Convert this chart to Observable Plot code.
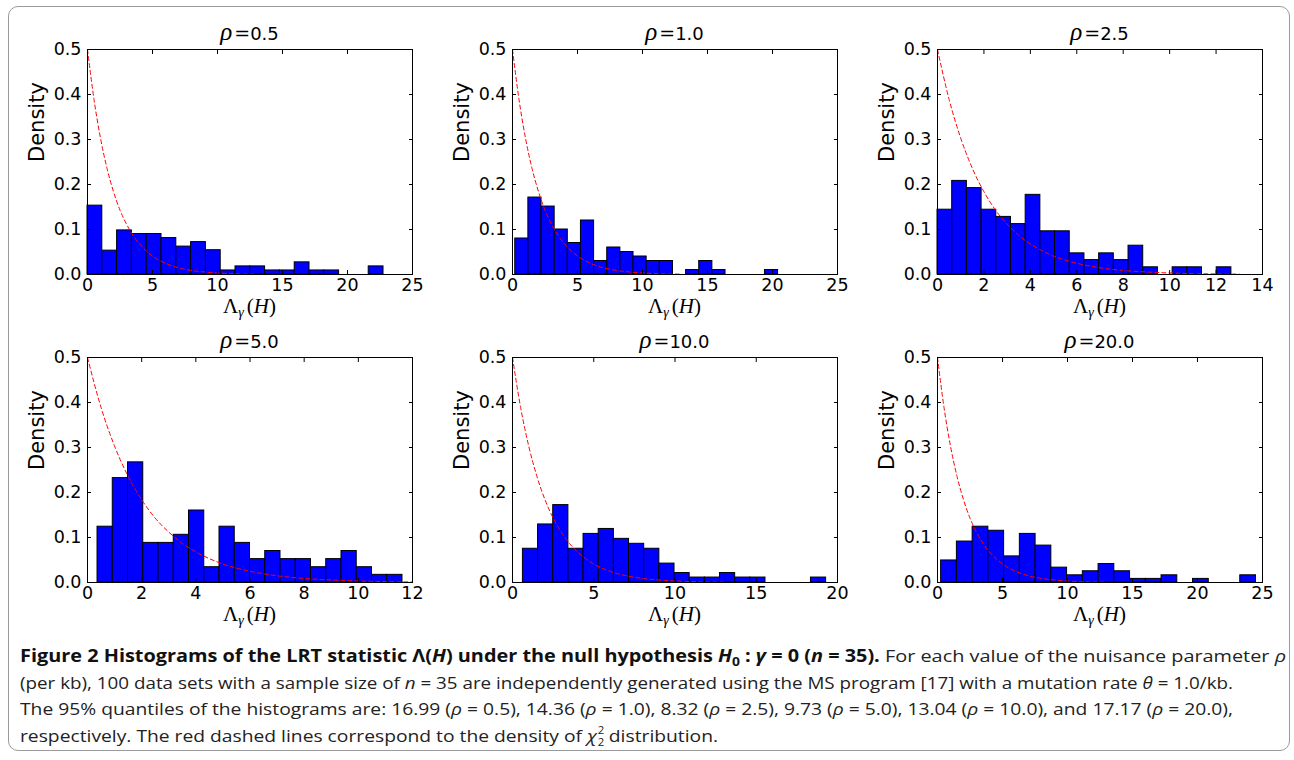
<!DOCTYPE html>
<html><head><meta charset="utf-8">
<script src="https://cdn.jsdelivr.net/npm/d3@7"></script>
<script src="https://cdn.jsdelivr.net/npm/@observablehq/plot@0.6"></script>
<style>
html,body{margin:0;padding:0;background:#fff;}
#page{position:relative;width:1294px;height:760px;overflow:hidden;background:#fff;}
#border{position:absolute;left:8px;top:6px;width:1282px;height:745px;border:1.5px solid #9a9a9a;border-radius:10px;box-sizing:border-box;}
.panel{position:absolute;}
.cap{position:absolute;left:20px;white-space:nowrap;font-family:"Open Sans";font-size:17px;line-height:20px;color:#222;transform-origin:0 50%;}
.cap b{color:#111;}
.cap sub{font-size:70%;line-height:0;}
.ss{display:inline-block;vertical-align:-4px;font-size:10px;text-align:left;margin-left:1px;margin-right:4px;}
.ss span{display:block;line-height:12px;}
</style></head><body>
<div id="page"><div id="border"></div></div>
<script>
// ---- data ----
const rhoLabels = ["0.5", "1.0", "2.5", "5.0", "10.0", "20.0"];
const xMax = [25, 25, 14, 12, 20, 25];
const xTicks25 = [0, 5, 10, 15, 20, 25];
const xTicks14 = [0, 2, 4, 6, 8, 10, 12, 14];
const xTicks12 = [0, 2, 4, 6, 8, 10, 12];
const xTicks20 = [0, 5, 10, 15, 20];
const yTicks = [0, 0.1, 0.2, 0.3, 0.4, 0.5];

// histogram ranges [min, max] (20 equal bins each)
const range_rho05 = [0, 22.77];
const range_rho10 = [0.21, 20.43];
const range_rho25 = [0, 12.66];
const range_rho50 = [0.37, 11.63];
const range_rho100 = [0.64, 19.3];
const range_rho200 = [0.28, 24.5];

// bin densities
const dens_rho05 = [0.153,0.053,0.098,0.090,0.090,0.081,0.062,0.072,0.054,0.009,0.018,0.018,0.009,0.009,0.027,0.009,0.009,0,0,0.018];
const dens_rho10 = [0.080,0.171,0.151,0.100,0.070,0.120,0.030,0.060,0.050,0.040,0.030,0.030,0,0.010,0.030,0.010,0,0,0,0.010];
const dens_rho25 = [0.144,0.208,0.192,0.144,0.128,0.112,0.177,0.096,0.096,0.047,0.032,0.047,0.032,0.064,0.016,0,0.016,0.016,0,0.016];
const dens_rho50 = [0.124,0.232,0.267,0.088,0.088,0.106,0.160,0.034,0.124,0.088,0.052,0.070,0.052,0.052,0.034,0.052,0.070,0.034,0.017,0.017];
const dens_rho100 = [0.075,0.129,0.172,0.075,0.108,0.119,0.097,0.086,0.075,0.042,0.021,0.011,0.011,0.021,0.011,0.011,0,0,0,0.011];
const dens_rho200 = [0.049,0.091,0.124,0.115,0.058,0.108,0.082,0.033,0.016,0.025,0.041,0.025,0.008,0.008,0.016,0,0.008,0,0,0.016];

// red dashed chi-square(2) density curve
const chiX = [0, 0.5, 1, 1.5, 2, 2.5, 3, 3.5, 4, 4.5, 5, 6, 7, 8, 9, 10, 11, 12, 13];
const chiY = [0.5, 0.389, 0.303, 0.236, 0.184, 0.143, 0.112, 0.087, 0.068, 0.053, 0.041, 0.025, 0.015, 0.009, 0.0056, 0.0034, 0.002, 0.0012, 0.0008];

// ---- layout ----
const W = 325, H = 225, mL = 70, mR = 20, mT = 40, mB = 50;
const frameLefts = [87, 512, 937];
const frameTops = [49, 357];

const panels = [
  {rho: rhoLabels[0], xmax: xMax[0], ticks: xTicks25, range: range_rho05, dens: dens_rho05},
  {rho: rhoLabels[1], xmax: xMax[1], ticks: xTicks25, range: range_rho10, dens: dens_rho10},
  {rho: rhoLabels[2], xmax: xMax[2], ticks: xTicks14, range: range_rho25, dens: dens_rho25},
  {rho: rhoLabels[3], xmax: xMax[3], ticks: xTicks12, range: range_rho50, dens: dens_rho50},
  {rho: rhoLabels[4], xmax: xMax[4], ticks: xTicks20, range: range_rho100, dens: dens_rho100},
  {rho: rhoLabels[5], xmax: xMax[5], ticks: xTicks25, range: range_rho200, dens: dens_rho200}
];

const page = document.getElementById("page");
const curvePts = chiX.map((x, i) => ({x, y: chiY[i]}));

panels.forEach((p, idx) => {
  const n = p.dens.length;
  const bw = (p.range[1] - p.range[0]) / n;
  const bins = p.dens.map((d, i) => ({x1: p.range[0] + i * bw, x2: p.range[0] + (i + 1) * bw, y: d})).filter(d => d.y > 0);
  const curve = curvePts.filter(d => d.x <= p.xmax);
  const svg = Plot.plot({
    width: mL + W + mR, height: mT + H + mB,
    marginLeft: mL, marginRight: mR, marginTop: mT, marginBottom: mB,
    style: {fontFamily: "DejaVu Sans", fontSize: "17px", color: "black", background: "transparent", overflow: "visible"},
    x: {domain: [0, p.xmax]},
    y: {domain: [0, 0.5]},
    marks: [
      Plot.rect(bins, {x1: "x1", x2: "x2", y1: 0, y2: "y", fill: "#0000ff", stroke: "#000", strokeWidth: 1}),
      Plot.line(curve, {x: "x", y: "y", stroke: "#ff0000", strokeWidth: 1, strokeDasharray: "4,3", curve: "monotone-x"}),
      Plot.frame({stroke: "#000", strokeWidth: 1}),
      Plot.axisX(p.ticks, {anchor: "bottom", tickSize: 4, dy: -4, fill: "none", label: null}),
      Plot.axisX(p.ticks, {anchor: "top", tickSize: 4, dy: 4, fill: "none", label: null}),
      Plot.axisY(yTicks, {anchor: "left", tickSize: 4, dx: 4, fill: "none", label: null}),
      Plot.axisY(yTicks, {anchor: "right", tickSize: 4, dx: -4, fill: "none", label: null}),
      Plot.axisX(p.ticks, {anchor: "bottom", tickSize: 0, tickPadding: 4, label: null, fontSize: 17.5}),
      Plot.axisY(yTicks, {anchor: "left", tickSize: 0, tickPadding: 6, tickFormat: ".1f", label: null, fontSize: 17.5}),
      Plot.text(["Density"], {frameAnchor: "left", rotate: -90, dx: -50, fontSize: 21})
    ]
  });
  const s = d3.select(svg);
  // title
  const t = s.append("text").attr("x", mL + W / 2).attr("y", mT - 9).attr("text-anchor", "middle").attr("fill", "black");
  t.append("tspan").attr("font-family", "Liberation Serif").attr("font-style", "italic").attr("font-size", 25).text("ρ");
  t.append("tspan").attr("font-family", "DejaVu Serif").attr("font-size", 19).attr("dx", 2).text("=");
  t.append("tspan").attr("font-family", "DejaVu Sans").attr("font-size", 18).text(p.rho);
  // x label
  const xl = s.append("text").attr("x", mL + W / 2).attr("y", mT + H + 39).attr("text-anchor", "middle")
    .attr("font-family", "Liberation Serif").attr("font-size", 21).attr("fill", "black");
  xl.append("tspan").text("Λ");
  xl.append("tspan").attr("font-style", "italic").attr("font-size", 14).attr("dy", 4).text("γ");
  xl.append("tspan").attr("dy", -4).attr("dx", 3).text("(");
  xl.append("tspan").attr("font-style", "italic").text("H");
  xl.append("tspan").text(")");

  const col = idx % 3, row = Math.floor(idx / 3);
  const div = document.createElement("div");
  div.className = "panel";
  div.style.left = (frameLefts[col] - mL) + "px";
  div.style.top = (frameTops[row] - mT) + "px";
  div.appendChild(svg);
  page.appendChild(div);
});

// ---- caption ----
const capLines = [
  {html: '<b>Figure 2 Histograms of the LRT statistic Λ(<i>H</i>) under the null hypothesis <i>H</i><sub>0</sub> : <i>γ</i> = 0 (<i>n</i> = 35).</b> For each value of the nuisance parameter <i>ρ</i>', top: 646, right: 1286},
  {html: '(per kb), 100 data sets with a sample size of <i>n</i> = 35 are independently generated using the MS program [17] with a mutation rate <i>θ</i> = 1.0/kb.', top: 673, right: 1233},
  {html: 'The 95% quantiles of the histograms are: 16.99 (<i>ρ</i> = 0.5), 14.36 (<i>ρ</i> = 1.0), 8.32 (<i>ρ</i> = 2.5), 9.73 (<i>ρ</i> = 5.0), 13.04 (<i>ρ</i> = 10.0), and 17.17 (<i>ρ</i> = 20.0),', top: 699, right: 1233},
  {html: 'respectively. The red dashed lines correspond to the density of <i>χ</i><span class="ss"><span>2</span><span>2</span></span>distribution.', top: 724, right: 718}
];
capLines.forEach(l => {
  const d = document.createElement("div");
  d.className = "cap";
  d.innerHTML = l.html;
  d.style.top = l.top + "px";
  page.appendChild(d);
  const w = d.getBoundingClientRect().width;
  d.style.transform = "scaleX(" + ((l.right - 20) / w) + ")";
});
</script>
</body></html>
